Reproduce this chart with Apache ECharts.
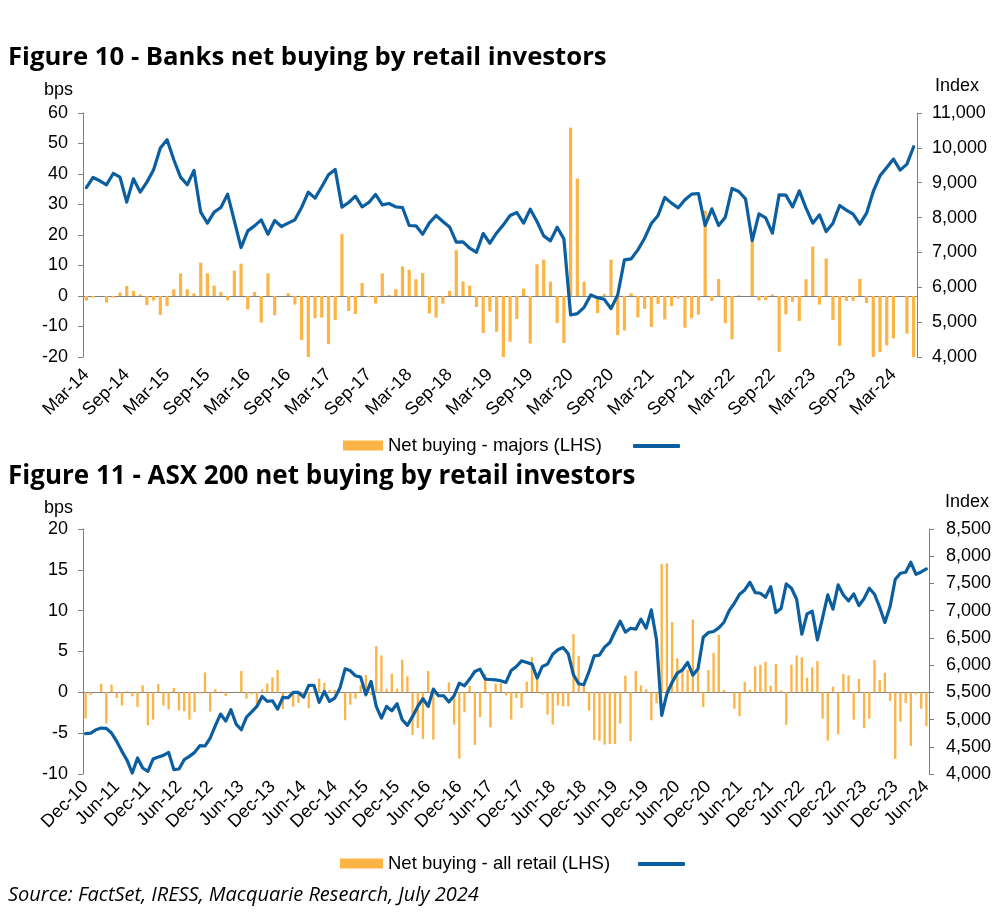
<!DOCTYPE html>
<html>
<head>
<meta charset="utf-8">
<title>Retail investor net buying</title>
<script src="https://cdn.jsdelivr.net/npm/echarts@6/dist/echarts.min.js"></script>
<style>
  html, body { margin: 0; padding: 0; background: #fff; }
  #chart { width: 1000px; height: 912px; }
</style>
</head>
<body>
<div id="chart"></div>
<script>
// Figure 10 - monthly from Mar-14 to Jun-24 (bps, LHS / index, RHS)
const banksNetBuying = [
  -1.5, -0.5, 0, -2.2, -0.5, 1.1, 3.3, 1.7, 0.5, -3,
  -1.5, -6.2, -3.3, 2.2, 7.4, 2.2, 0.9, 10.9, 7.4, 3.4,
  1.3, -1.4, 8.3, 10.6, -4.4, 1.3, -8.7, 7.4, -6.3, 0,
  0.9, -2.8, -14.4, -20.4, -7.3, -7.1, -15.8, -7.9, 20.3, -4.9,
  -5.9, 4.3, -0.4, -2.5, 7.4, 0.3, 2.2, 9.7, 8.6, 5.5,
  7.5, -5.7, -7.1, -2.5, 1.7, 15, 4.8, 3.4, -3.6, -12.1,
  -5.1, -11.7, -20.4, -15, -7.5, 2.4, -15.6, 10.4, 11.9, 4.7,
  -8.9, -15.4, 55.2, 38.5, 4.7, 0, -5.6, 0.7, 11.9, -12.8,
  -11.3, 0.9, -7, -4.2, -10.1, -2.6, -7.7, -3.3, -0.8, -10.4,
  -7.3, -6.1, 28, -1.6, 5.6, -8.9, -14.2, 0.2, 0, 18.1,
  -1.5, -1.4, 0.5, -18.3, -6, -1.9, -8.2, 5.5, 16.2, -2.8,
  12.3, -7.9, -16.3, -1.6, -1.6, 5.6, -2.3, -20.4, -18.4, -16.2,
  -13.9, 0, -12.3, -20.4
];
const banksIndex = [
  8860, 9150, 9055, 8940, 9266, 9161, 8442, 9113, 8730, 9017,
  9372, 9994, 10234, 9659, 9161, 8940, 9352, 8155, 7839, 8155,
  8289, 8672, 7906, 7140, 7619, 7762, 7935, 7523, 7916, 7743,
  7839, 7935, 8289, 8730, 8557, 8883, 9228, 9381, 8299, 8433,
  8615, 8308, 8433, 8663, 8366, 8404, 8308, 8289, 7772, 7762,
  7523, 7849, 8059, 7887, 7733, 7293, 7302, 7120, 7005, 7542,
  7264, 7560, 7791, 8059, 8145, 7839, 8241, 7887, 7475, 7331,
  7724, 7389, 5205, 5243, 5425, 5779, 5703, 5655, 5387, 5779,
  6785, 6814, 7073, 7408, 7829, 8059, 8577, 8414, 8280, 8509,
  8672, 8691, 7772, 8251, 7772, 8011, 8835, 8749, 8538, 7341,
  8107, 7992, 7552, 8653, 8644, 8308, 8768, 8270, 7839, 8078,
  7599, 7839, 8347, 8212, 8098, 7810, 8126, 8749, 9199, 9439,
  9678, 9362, 9534, 10033
];

// Figure 11 - monthly from Dec-10 to Jun-24
const asxNetBuying = [
  -3.2, -0.3, 0, 1.06, -3.83, 0.94, -0.69, -1.63, 0.12, -0.49,
  -1.79, 0.86, -4.03, -3.34, 1.02, -1.63, -2.08, 0.53, -2.24, -2.32,
  -3.34, -2.44, -0.16, 2.44, -2.36, 0.37, 0.12, -0.45, 0, 0.08,
  2.61, -0.77, -0.24, -1.51, 0.37, 1.1, 1.83, 2.73, -2.04, -0.1,
  -1.75, -1.3, -0.2, -1.96, 0, 1.67, 1.18, 0.29, 0.29, 0,
  -3.42, -1.51, -0.77, 0.86, 2.12, -0.3, 5.66, 4.52, 0.45, 2.28,
  0.45, 3.99, 1.96, -5.22, -4.36, -5.7, 2.61, -5.79, 0, 0,
  1.22, -3.95, -8.11, -2.44, 0.81, -6.44, -3.02, 2.24, -4.28, 1.06,
  1.14, -0.37, -3.34, -0.69, -1.92, 1.3, 4.32, 1.96, -0.24, -2.73,
  -3.95, -1.59, -1.71, -1.71, 7.13, 4.48, 0.73, -2.24, -5.83, -5.95,
  -6.4, -6.32, -6.32, -3.83, 2.04, -5.99, 2.61, 0.86, 0.37, -3.42,
  -1.34, 15.69, 15.81, 8.6, 4.16, 2.77, 2.77, 8.92, 3.59, -1.79,
  2.73, 4.81, 7.05, 0.29, 0, -2, -2.93, 1.26, 0.33, 3.18,
  3.38, 3.75, 0.81, 3.5, 0.2, -3.99, 3.38, 4.52, 4.28, 1.79,
  3.06, 3.83, -3.22, -5.91, 0.69, -5.13, 2.24, 2.08, -3.34, 1.63,
  -4.4, -3.22, 3.95, 1.51, 2.4, -1.06, -8.15, -3.59, -1.3, -6.56,
  -0.24, -2, -4.16
];
const asxIndex = [
  4740, 4752, 4813, 4844, 4838, 4752, 4599, 4416, 4251, 4018,
  4294, 4110, 4049, 4275, 4312, 4342, 4397, 4080, 4092, 4263,
  4324, 4397, 4520, 4514, 4660, 4887, 5101, 4972, 5180, 4917,
  4813, 5046, 5143, 5241, 5425, 5333, 5345, 5192, 5406, 5400,
  5498, 5498, 5412, 5626, 5626, 5315, 5516, 5333, 5394, 5578,
  5932, 5896, 5804, 5779, 5455, 5700, 5241, 5027, 5241, 5162,
  5290, 4997, 4893, 5058, 5241, 5382, 5241, 5559, 5437, 5437,
  5321, 5437, 5669, 5620, 5743, 5883, 5926, 5743, 5736, 5730,
  5712, 5681, 5902, 5975, 6079, 6049, 6018, 5761, 5975, 6018,
  6201, 6281, 6323, 6207, 5822, 5657, 5639, 5883, 6171, 6183,
  6330, 6415, 6617, 6806, 6605, 6678, 6660, 6843, 6678, 7014,
  6464, 5076, 5474, 5681, 5853, 5914, 6048, 5816, 5932, 6513,
  6598, 6617, 6684, 6788, 7002, 7137, 7302, 7381, 7522, 7332,
  7320, 7247, 7442, 6965, 7039, 7491, 7412, 7210, 6568, 6941,
  6990, 6464, 6874, 7289, 7027, 7473, 7289, 7179, 7308, 7094,
  7222, 7412, 7302, 7063, 6782, 7075, 7577, 7687, 7705, 7889,
  7668, 7711, 7766
];

const BAR_COLOR = '#FDB446';
const LINE_COLOR = '#0B5E9F';
const AXIS_COLOR = '#808080';
const FONT = '"Liberation Sans", Arial, sans-serif';
const TITLE_FONT = '"Open Sans", "Liberation Sans", sans-serif';

// month labels like "Mar-14", month index 0 = Jan
function monthLabels(year, month, count) {
  const names = ['Jan', 'Feb', 'Mar', 'Apr', 'May', 'Jun', 'Jul', 'Aug', 'Sep', 'Oct', 'Nov', 'Dec'];
  const out = [];
  for (let i = 0; i < count; i++) {
    const m = month + i;
    const y = year + Math.floor(m / 12);
    out.push(names[m % 12] + '-' + String(y % 100).padStart(2, '0'));
  }
  return out;
}
const banksMonths = monthLabels(2014, 2, banksNetBuying.length);
const asxMonths = monthLabels(2010, 11, asxNetBuying.length);

const everySixth = (i) => i % 6 === 0;
const textStyle = { fontSize: 18, color: '#000', fontFamily: FONT };

// axis that only carries the rotated labels at the bottom of the plot
function labelAxis(gridIndex, data, margin) {
  return {
    type: 'category', gridIndex, data,
    axisLine: { show: false, onZero: false },
    axisTick: { show: false },
    axisLabel: Object.assign({ interval: everySixth, rotate: 45, margin }, textStyle)
  };
}
// axis that draws the line through zero with the ticks
function zeroAxis(gridIndex, data) {
  return {
    type: 'category', gridIndex, data,
    axisLine: { onZero: true, lineStyle: { color: AXIS_COLOR, width: 1 } },
    axisTick: { interval: everySixth, length: 5, lineStyle: { color: AXIS_COLOR } },
    axisLabel: { show: false }
  };
}
function valueAxis(gridIndex, position, min, max, interval, name, nameAlign, namePad, margin) {
  return {
    type: 'value', gridIndex, position, min, max, interval,
    name, nameLocation: 'end', nameGap: 12,
    nameTextStyle: Object.assign({ align: nameAlign, padding: namePad }, textStyle),
    splitLine: { show: false },
    axisLine: { show: true, lineStyle: { color: AXIS_COLOR } },
    axisTick: { show: true, length: 5, lineStyle: { color: AXIS_COLOR } },
    axisLabel: Object.assign({
      margin,
      formatter: (v) => v.toLocaleString('en-US')
    }, textStyle)
  };
}

const chart = echarts.init(document.getElementById('chart'));

const option = {
  animation: false,
  backgroundColor: '#fff',
  title: [
    {
      text: 'Figure 10 - Banks net buying by retail investors',
      left: 8, top: 45, padding: 0,
      textStyle: { fontFamily: TITLE_FONT, fontWeight: 'bold', fontSize: 25.7, color: '#000' }
    },
    {
      text: 'Figure 11 - ASX 200 net buying by retail investors',
      left: 8, top: 464, padding: 0,
      textStyle: { fontFamily: TITLE_FONT, fontWeight: 'bold', fontSize: 26, color: '#000' }
    },
    {
      text: 'Source: FactSet, IRESS, Macquarie Research, July 2024',
      left: 8, top: 885, padding: 0,
      textStyle: { fontFamily: TITLE_FONT, fontStyle: 'italic', fontWeight: 'normal', fontSize: 20, color: '#000' }
    }
  ],
  legend: [
    {
      data: [{ name: 'Net buying - majors (LHS)', icon: 'rect' }],
      left: 343, top: 436, padding: 0, itemWidth: 40, itemHeight: 10, itemGap: 7,
      selectedMode: false, textStyle: Object.assign({}, textStyle, { fontSize: 18.5 })
    },
    {
      data: [{ name: 'Banks index', icon: 'roundRect' }],
      left: 633, top: 444, padding: 0, itemWidth: 47, itemHeight: 4,
      selectedMode: false, formatter: () => '', textStyle
    },
    {
      data: [{ name: 'Net buying - all retail (LHS)', icon: 'rect' }],
      left: 340, top: 854, padding: 0, itemWidth: 43, itemHeight: 10,
      selectedMode: false, textStyle: Object.assign({}, textStyle, { fontSize: 18.5 })
    },
    {
      data: [{ name: 'ASX 200 index', icon: 'roundRect' }],
      left: 638, top: 862, padding: 0, itemWidth: 47, itemHeight: 4,
      selectedMode: false, formatter: () => '', textStyle
    }
  ],
  grid: [
    { left: 83, right: 83, top: 113, height: 244 },
    { left: 83, right: 71, top: 529, height: 245 }
  ],
  xAxis: [
    labelAxis(0, banksMonths, 15),
    zeroAxis(0, banksMonths),
    labelAxis(1, asxMonths, 10),
    zeroAxis(1, asxMonths)
  ],
  yAxis: [
    valueAxis(0, 'left', -20, 60, 10, 'bps', 'right', [0, 10, 2, 0], 15),
    valueAxis(0, 'right', 4000, 11000, 1000, 'Index', 'left', [0, 0, 6, 18], 15),
    valueAxis(1, 'left', -10, 20, 5, 'bps', 'right', [0, 10, 0, 0], 15),
    valueAxis(1, 'right', 4000, 8500, 500, 'Index', 'left', [0, 0, 6, 16], 17)
  ],
  series: [
    {
      name: 'Net buying - majors (LHS)', type: 'bar',
      xAxisIndex: 0, yAxisIndex: 0, data: banksNetBuying,
      barWidth: '48%', itemStyle: { color: BAR_COLOR }
    },
    {
      name: 'Banks index', type: 'line',
      xAxisIndex: 0, yAxisIndex: 1, data: banksIndex,
      symbol: 'none', z: 5, itemStyle: { color: LINE_COLOR },
      lineStyle: { color: LINE_COLOR, width: 3.2, join: 'round', cap: 'round' }
    },
    {
      name: 'Net buying - all retail (LHS)', type: 'bar',
      xAxisIndex: 2, yAxisIndex: 2, data: asxNetBuying,
      barWidth: '45%', itemStyle: { color: BAR_COLOR }
    },
    {
      name: 'ASX 200 index', type: 'line',
      xAxisIndex: 2, yAxisIndex: 3, data: asxIndex,
      symbol: 'none', z: 5, itemStyle: { color: LINE_COLOR },
      lineStyle: { color: LINE_COLOR, width: 3.2, join: 'round', cap: 'round' }
    }
  ]
};

chart.setOption(option);

window.addEventListener('resize', () => {
  chart.resize();
});
</script>
</body>
</html>
